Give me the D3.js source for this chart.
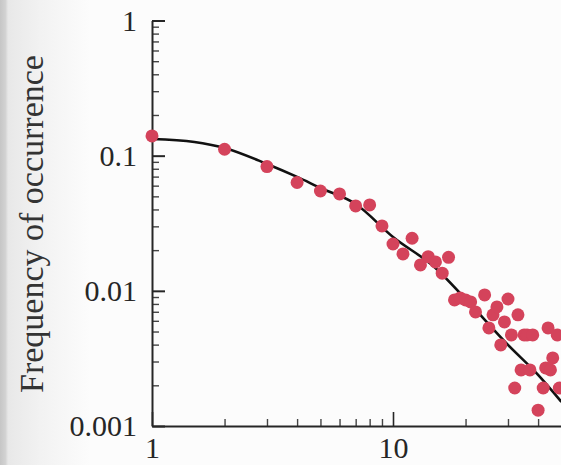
<!DOCTYPE html>
<html>
<head>
<meta charset="utf-8">
<script src="https://cdn.jsdelivr.net/npm/d3@7"></script>
<style>
  html, body { margin: 0; padding: 0; background: #fcfcfc; }
  svg { display: block; }
  svg text { font-family: "Liberation Serif", "DejaVu Serif", serif; }
</style>
</head>
<body>
<svg id="chart" width="561" height="465"></svg>
<script>
// observed frequencies (x = size class, y = frequency)
const sizes = [1, 2, 3, 4, 5, 6, 7, 8, 9, 10, 11, 12, 13, 14, 15, 16, 17,
  18, 19, 20, 21, 22, 24, 25, 26, 27, 28, 29, 30, 31, 32, 33, 34, 35, 36,
  37, 38, 40, 42, 43, 44, 45, 46, 48, 49]
const freqs = [0.140, 0.1115, 0.083, 0.0633, 0.0548, 0.0521, 0.0425, 0.0432,
  0.0302, 0.0222, 0.01875, 0.0245, 0.01555, 0.0179, 0.01637, 0.0135, 0.0177,
  0.00857, 0.00886, 0.00857, 0.00828, 0.00698, 0.00933, 0.00532, 0.00664,
  0.0076, 0.00398, 0.00589, 0.0087, 0.00472, 0.00191, 0.00664, 0.0026,
  0.00472, 0.00472, 0.0026, 0.00472, 0.00131, 0.00191, 0.00269, 0.00532,
  0.0026, 0.00319, 0.00472, 0.00191]

// fitted curve
const fitX = [1, 1.5, 2, 3, 4, 5, 7, 10, 15, 20, 30, 40, 50]
const fitY = [0.1329, 0.1263, 0.114, 0.0868, 0.0696, 0.0577, 0.0439,
  0.02504, 0.01477, 0.00871, 0.00398, 0.00239, 0.001508]

const yMajor = [0.001, 0.01, 0.1, 1]
const yTickLabels = ['0.001', '0.01', '0.1', '1']
const xMajor = [1, 10]
const xTickLabels = ['1', '10']
const yTitle = 'Frequency of occurrence'

const svg = d3.select('#chart')

// scanned page shading on the left edge
const defs = svg.append('defs')
const grad = defs.append('linearGradient').attr('id', 'page')
grad.append('stop').attr('offset', '0%').attr('stop-color', '#c6c6c6')
grad.append('stop').attr('offset', '6%').attr('stop-color', '#d2d2d2')
grad.append('stop').attr('offset', '9%').attr('stop-color', '#e8e8e8')
grad.append('stop').attr('offset', '45%').attr('stop-color', '#f2f2f2')
grad.append('stop').attr('offset', '100%').attr('stop-color', '#fcfcfc')
svg.append('rect').attr('x', 0).attr('y', 0).attr('width', 90).attr('height', 465)
  .attr('fill', 'url(#page)')

const x0 = 152, decadeX = 241
const x = d3.scaleLog().domain([1, 50]).range([x0, x0 + decadeX * Math.log10(50)])
const y = d3.scaleLog().domain([0.001, 1]).range([426, 20.5])

const ink = '#262626'

// minor ticks
const yMinor = y.ticks().filter(d => !yMajor.includes(d))
const xMinor = x.ticks().filter(d => !xMajor.includes(d))

svg.append('g')
  .attr('transform', `translate(${x0},0)`)
  .call(d3.axisLeft(y).tickValues(yMinor).tickSizeInner(-7).tickSizeOuter(0).tickFormat(''))
  .call(g => g.select('.domain').remove())
  .call(g => g.selectAll('line').attr('stroke', '#444').attr('stroke-width', 1.4))

svg.append('g')
  .attr('transform', 'translate(0,426)')
  .call(d3.axisBottom(x).tickValues(xMinor).tickSizeInner(-7).tickSizeOuter(0).tickFormat(''))
  .call(g => g.select('.domain').remove())
  .call(g => g.selectAll('line').attr('stroke', '#444').attr('stroke-width', 1.4))

// major ticks + labels
svg.append('g')
  .attr('transform', `translate(${x0},0)`)
  .call(d3.axisLeft(y).tickValues(yMajor).tickSizeInner(-13).tickSizeOuter(0)
    .tickPadding(15).tickFormat((d, i) => yTickLabels[i]))
  .attr('font-family', null)
  .call(g => g.select('.domain').attr('stroke', ink).attr('stroke-width', 2))
  .call(g => g.selectAll('line').attr('stroke', ink).attr('stroke-width', 2))
  .call(g => g.selectAll('text').style('font-size', '30px').attr('fill', ink))

svg.append('g')
  .attr('transform', 'translate(0,426)')
  .call(d3.axisBottom(x).tickValues(xMajor).tickSizeInner(-14).tickSizeOuter(0)
    .tickPadding(11).tickFormat((d, i) => xTickLabels[i]))
  .attr('font-family', null)
  .call(g => g.select('.domain').attr('stroke', ink).attr('stroke-width', 2.2))
  .call(g => g.selectAll('line').attr('stroke', ink).attr('stroke-width', 1.6))
  .call(g => g.selectAll('text').style('font-size', '30px').attr('fill', ink))

// axis title
svg.append('text')
  .attr('transform', 'translate(43,224) rotate(-90)')
  .attr('text-anchor', 'middle')
  .style('font-size', '34px')
  .attr('fill', '#333')
  .text(yTitle)

// fitted curve
const fit = fitX.map((d, i) => [d, fitY[i]])
const line = d3.line().x(d => x(d[0])).y(d => y(d[1])).curve(d3.curveMonotoneX)
svg.append('path')
  .datum(fit)
  .attr('d', line)
  .attr('fill', 'none')
  .attr('stroke', '#111')
  .attr('stroke-width', 2.6)

// data points
svg.append('g')
  .selectAll('circle')
  .data(sizes.map((d, i) => [d, freqs[i]]))
  .join('circle')
  .attr('cx', d => x(d[0]))
  .attr('cy', d => y(d[1]))
  .attr('r', 6.5)
  .attr('fill', '#d4435b')
</script>
</body>
</html>
